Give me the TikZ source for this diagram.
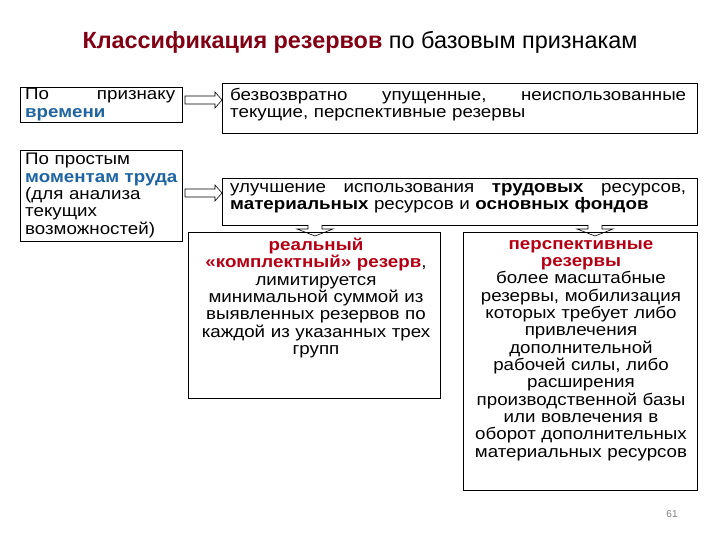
\documentclass[tikz,border=0pt]{standalone}
\usepackage{fontspec}
\setmainfont[FakeStretch=1.12]{Liberation Sans}
\newfontfamily\titlefont{Liberation Sans}
\definecolor{tred}{RGB}{130,0,20}
\definecolor{bred}{RGB}{180,0,20}
\definecolor{tblue}{RGB}{30,100,160}
\newcommand{\jl}[2]{\makebox[#1][l]{#2}}
\begin{document}
\begin{tikzpicture}[x=1bp,y=-1bp,
  txt/.style={font=\fontsize{16.8}{17.4}\selectfont,inner sep=0pt,anchor=north west},
  harrow/.style={draw,fill=white,line width=0.6pt}]
\useasboundingbox (0,0) rectangle (720,540);
\node[font=\titlefont\fontsize{23.5}{26}\selectfont] (title) at (360,42) {\textcolor{tred}{\textbf{Классификация резервов}} по базовым признакам};
% boxes
\draw[line width=0.8pt] (20,87) rectangle (182,122) coordinate (l1);
\draw[line width=0.8pt] (20,150) rectangle (182,241) coordinate (l2);
\draw[line width=0.8pt] (222,83) rectangle (697,133) coordinate (r1);
\draw[line width=0.8pt] (222,178) rectangle (697,225) coordinate (r2);
\draw[line width=0.8pt] (188,232) rectangle (440,398) coordinate (b1);
\draw[line width=0.8pt] (463,232) rectangle (697,490) coordinate (b2);
% texts
\node[txt,text width=150bp,align=left] (tl1) at (25,88) {\jl{150bp}{По\hfill признаку}\\\textcolor{tblue}{\textbf{времени}}};
\node[txt,text width=160bp,align=left] (tl2) at (25,153) {По простым\\\mbox{\textcolor{tblue}{\textbf{моментам} \textbf{труда}}}\\(для анализа\\текущих\\возможностей)};
\node[txt,text width=458bp,align=left] (tr1) at (230,88) {\jl{456bp}{безвозвратно\hfill упущенные,\hfill неиспользованные}\\текущие, перспективные резервы};
\node[txt,text width=458bp,align=left] (tr2) at (230,183) {\jl{456bp}{улучшение\hfill использования\hfill \textbf{трудовых}\hfill ресурсов,}\\\textbf{материальных} ресурсов и \textbf{основных фондов}};
\node[txt,text width=250bp,align=center,anchor=north] (tb1) at (316,238) {\textcolor{bred}{\textbf{реальный}}\\\textcolor{bred}{\textbf{«комплектный» резерв}},\\лимитируется\\минимальной суммой из\\выявленных резервов по\\каждой из указанных трех\\групп};
\node[txt,text width=232bp,align=center,anchor=north] (tb2) at (581,240) {\textcolor{bred}{\textbf{перспективные}}\\\textcolor{bred}{\textbf{резервы}}\\более масштабные\\резервы, мобилизация\\которых требует либо\\привлечения\\дополнительной\\рабочей силы, либо\\расширения\\производственной базы\\или вовлечения в\\оборот дополнительных\\материальных ресурсов};
\node[font=\titlefont\fontsize{10}{12}\selectfont,text=gray] (pg) at (672,514) {61};
% horizontal block arrows
\foreach \yy in {100,193}{
\draw[harrow] (185,\yy-4) -- (215,\yy-4) -- (215,\yy-8) -- (222,\yy) -- (215,\yy+8) -- (215,\yy+4) -- (185,\yy+4) -- cycle;}
% down arrows
\foreach \xx in {315,595}{
\draw[harrow] (\xx-7,225) -- (\xx-7,229) -- (\xx-18,229) -- (\xx,236) -- (\xx+18,229) -- (\xx+7,229) -- (\xx+7,225);}
\draw[line width=0.8pt] (188,232) -- (440,232);
\draw[line width=0.8pt] (463,232) -- (697,232);
\end{tikzpicture}
\end{document}
